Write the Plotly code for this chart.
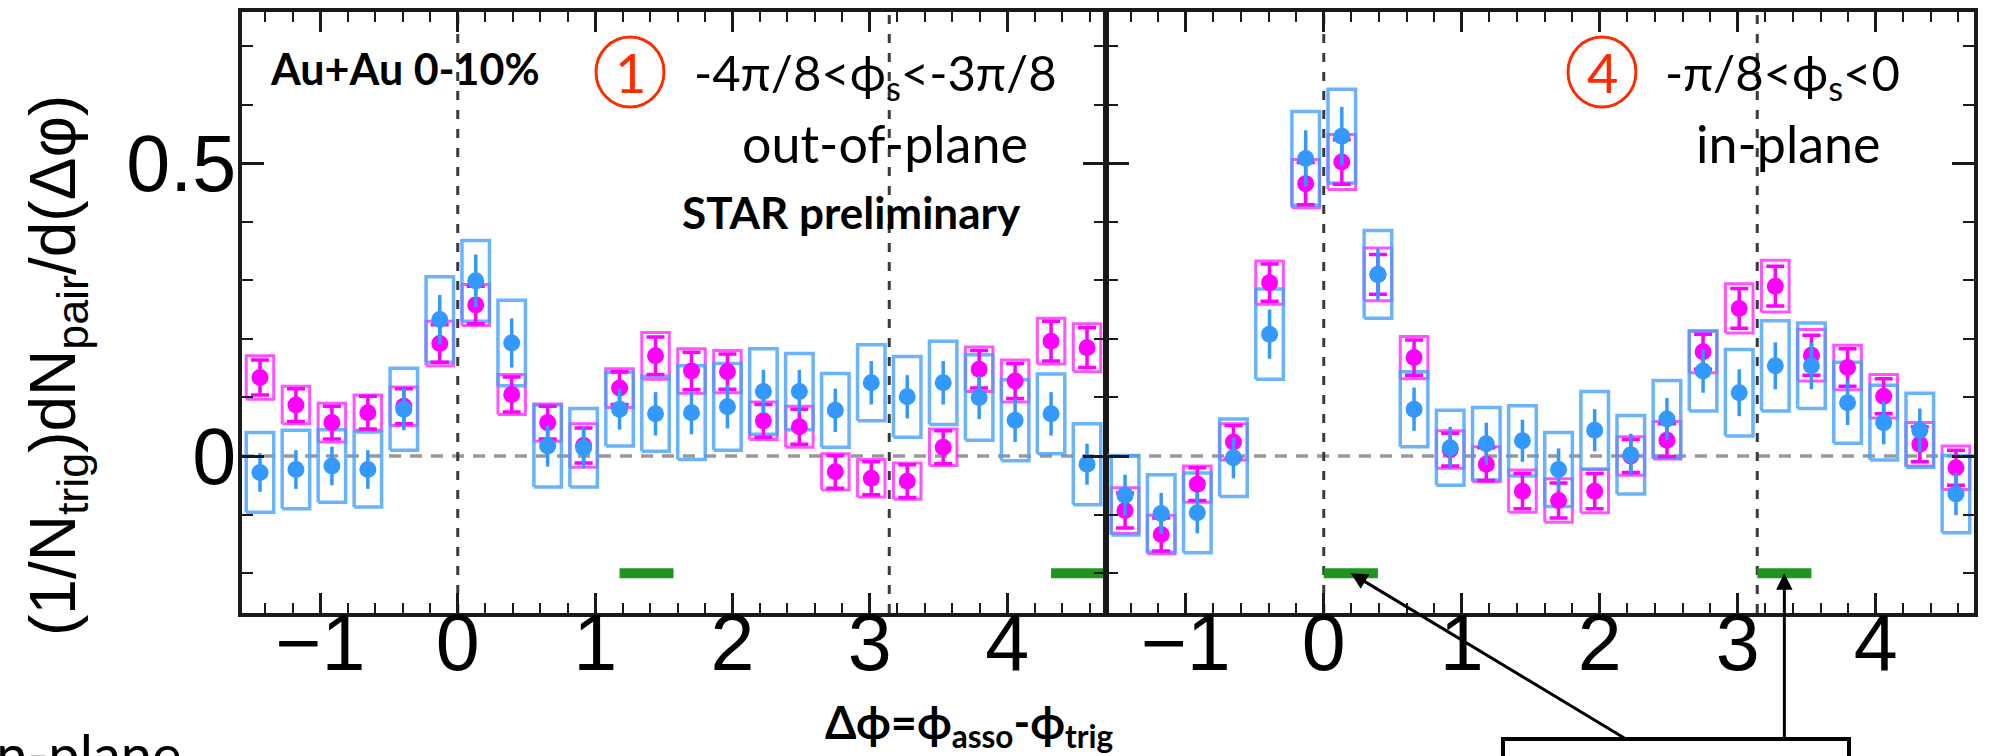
import numpy as np
import plotly.graph_objects as go

W, H = 1998, 756

# Δφ binning: 24 bins over [-π/2, 3π/2]
n_bins = 24
bin_edges = np.linspace(-np.pi / 2, 3 * np.pi / 2, n_bins + 1)
dphi = 0.5 * (bin_edges[:-1] + bin_edges[1:])

# ① out-of-plane  (-4π/8 < φs < -3π/8)
out_mag_y = [0.134, 0.087, 0.057, 0.074, 0.085, 0.192, 0.258, 0.105, 0.057, 0.018, 0.116, 0.171,
             0.145, 0.144, 0.060, 0.050, -0.027, -0.038, -0.043, 0.015, 0.148, 0.128, 0.196, 0.185]
out_mag_stat = [0.030, 0.028, 0.028, 0.028, 0.030, 0.032, 0.032, 0.030, 0.028, 0.030, 0.028, 0.032,
                0.032, 0.030, 0.028, 0.030, 0.028, 0.028, 0.028, 0.028, 0.032, 0.030, 0.034, 0.034]
out_mag_sys = [0.037, 0.032, 0.033, 0.030, 0.033, 0.038, 0.035, 0.034, 0.032, 0.037, 0.033, 0.040,
               0.038, 0.036, 0.032, 0.035, 0.031, 0.032, 0.031, 0.031, 0.038, 0.036, 0.039, 0.041]
out_blue_y = [-0.028, -0.023, -0.017, -0.023, 0.080, 0.233, 0.299, 0.193, 0.017, 0.014, 0.080, 0.072,
              0.074, 0.084, 0.110, 0.110, 0.078, 0.125, 0.101, 0.125, 0.100, 0.061, 0.072, -0.014]
out_blue_stat = [0.033, 0.033, 0.033, 0.033, 0.036, 0.042, 0.045, 0.042, 0.035, 0.035, 0.035, 0.037,
                 0.037, 0.037, 0.037, 0.037, 0.037, 0.037, 0.037, 0.037, 0.037, 0.037, 0.037, 0.035]
out_blue_sys = [0.068, 0.067, 0.062, 0.064, 0.070, 0.073, 0.069, 0.073, 0.070, 0.067, 0.063, 0.064,
                0.080, 0.074, 0.073, 0.065, 0.063, 0.065, 0.069, 0.071, 0.073, 0.069, 0.068, 0.069]

# ④ in-plane  (-π/8 < φs < 0)
in_mag_y = [-0.093, -0.134, -0.048, 0.024, 0.296, 0.465, 0.502, 0.310, 0.168, 0.011, -0.014, -0.060,
            -0.076, -0.060, 0.000, 0.027, 0.178, 0.252, 0.290, 0.172, 0.151, 0.102, 0.020, -0.020]
in_mag_stat = [0.030, 0.028, 0.028, 0.028, 0.032, 0.036, 0.038, 0.034, 0.030, 0.028, 0.028, 0.030,
               0.030, 0.030, 0.028, 0.028, 0.030, 0.034, 0.034, 0.034, 0.032, 0.030, 0.030, 0.030]
in_mag_sys = [0.039, 0.033, 0.031, 0.031, 0.037, 0.041, 0.047, 0.045, 0.036, 0.032, 0.030, 0.036,
              0.037, 0.037, 0.033, 0.032, 0.036, 0.042, 0.044, 0.044, 0.038, 0.037, 0.037, 0.037]
in_blue_y = [-0.067, -0.098, -0.097, -0.003, 0.208, 0.508, 0.546, 0.310, 0.080, 0.014, 0.021, 0.026,
             -0.023, 0.044, 0.002, 0.063, 0.145, 0.108, 0.154, 0.154, 0.091, 0.057, 0.044, -0.065]
in_blue_stat = [0.035, 0.035, 0.035, 0.035, 0.042, 0.048, 0.050, 0.044, 0.037, 0.036, 0.036, 0.036,
                0.036, 0.036, 0.036, 0.036, 0.037, 0.040, 0.040, 0.040, 0.038, 0.037, 0.037, 0.036]
in_blue_sys = [0.068, 0.066, 0.068, 0.066, 0.077, 0.080, 0.080, 0.075, 0.064, 0.064, 0.062, 0.060,
               0.063, 0.066, 0.067, 0.066, 0.068, 0.074, 0.077, 0.073, 0.069, 0.064, 0.063, 0.066]

# trigger-direction windows (in units of π) marked at the bottom of each panel
out_trig_windows = [(3 / 8, 4 / 8), (11 / 8, 12 / 8)]
in_trig_windows = [(0.0, 1 / 8), (1.0, 9 / 8)]
trig_marker_level = -0.2

x_ticks = [-1, 0, 1, 2, 3, 4]
y_ticks = [0, 0.5]
y_tick_text = ["0", "0.5"]
y_range = [-0.268, 0.758]
x_range = [-np.pi / 2, 3 * np.pi / 2]

BOX_HALF_W = 0.1

MAG = "#ff00ff"
MAG_BOX = "rgba(255,40,255,0.80)"
BLUE = "#3399ff"
BLUE_BOX = "rgba(70,160,250,0.80)"
GREEN = "#1f951f"


def px(x):
    return x / W


def py(y):
    return 1 - y / H


def box_outline(xc, yc, half_h):
    xs, ys = [], []
    for x, y, h in zip(xc, yc, half_h):
        xs += [x - BOX_HALF_W, x + BOX_HALF_W, x + BOX_HALF_W, x - BOX_HALF_W, x - BOX_HALF_W, None]
        ys += [y - h, y - h, y + h, y + h, y - h, None]
    return xs, ys


def window_segments(windows):
    xs, ys = [], []
    for a, b in windows:
        xs += [a * np.pi, b * np.pi, None]
        ys += [trig_marker_level, trig_marker_level, None]
    return xs, ys


fig = go.Figure()

panels = [
    ("x", "y", out_mag_y, out_mag_stat, out_mag_sys, out_blue_y, out_blue_stat, out_blue_sys, out_trig_windows),
    ("x2", "y2", in_mag_y, in_mag_stat, in_mag_sys, in_blue_y, in_blue_stat, in_blue_sys, in_trig_windows),
]

for xa, ya, my, mst, msy, by, bst, bsy, wins in panels:
    bx, bb = box_outline(dphi, my, msy)
    fig.add_trace(go.Scatter(x=bx, y=bb, mode="lines", line=dict(color=MAG_BOX, width=3),
                             xaxis=xa, yaxis=ya, hoverinfo="skip"))
    bx, bb = box_outline(dphi, by, bsy)
    fig.add_trace(go.Scatter(x=bx, y=bb, mode="lines", line=dict(color=BLUE_BOX, width=3.5),
                             xaxis=xa, yaxis=ya, hoverinfo="skip"))
    fig.add_trace(go.Scatter(x=dphi, y=my, mode="markers",
                             marker=dict(color=MAG, size=17),
                             error_y=dict(type="data", array=mst, color=MAG, thickness=3.5, width=9),
                             xaxis=xa, yaxis=ya))
    fig.add_trace(go.Scatter(x=dphi, y=by, mode="markers",
                             marker=dict(color=BLUE, size=17),
                             error_y=dict(type="data", array=bst, color=BLUE, thickness=3.5, width=0),
                             xaxis=xa, yaxis=ya))
    gx, gy = window_segments(wins)
    fig.add_trace(go.Scatter(x=gx, y=gy, mode="lines", line=dict(color=GREEN, width=10),
                             xaxis=xa, yaxis=ya, hoverinfo="skip"))

# reference lines
shapes = []
for xa, ya in [("x", "y"), ("x2", "y2")]:
    shapes.append(dict(type="line", xref=xa, yref=ya, x0=x_range[0], x1=x_range[1], y0=0, y1=0,
                       line=dict(color="#999999", width=3.5, dash="12px,9px"), layer="below"))
    for xv in (0, np.pi):
        shapes.append(dict(type="line", xref=xa, yref=ya, x0=xv, x1=xv, y0=y_range[0], y1=y_range[1],
                           line=dict(color="#3a3a3a", width=3, dash="9px,10px"), layer="below"))
# white backing behind the bin labels
shapes.append(dict(type="rect", xref="paper", yref="paper", x0=px(690), x1=px(1060), y0=py(247), y1=py(32),
                   fillcolor="white", line=dict(width=0), layer="below"))
shapes.append(dict(type="rect", xref="paper", yref="paper", x0=px(1560), x1=px(1910), y0=py(173), y1=py(32),
                   fillcolor="white", line=dict(width=0), layer="below"))
# circled bin numbers
for cx in (630, 1602):
    shapes.append(dict(type="circle", xref="paper", yref="paper", x0=px(cx - 34), x1=px(cx + 34),
                       y0=py(72 + 35), y1=py(72 - 35), line=dict(color="#ff2a00", width=3)))
# label box under the arrows
shapes.append(dict(type="rect", xref="paper", yref="paper", x0=px(1503), x1=px(1849), y0=py(800), y1=py(739),
                   line=dict(color="black", width=4), fillcolor="rgba(0,0,0,0)"))

SLIDE_FONT = "Lato"
ann = []


def label(text, x, y, size, color="black", family=SLIDE_FONT, **kw):
    ann.append(dict(text=text, x=px(x), y=py(y), xref="paper", yref="paper", showarrow=False,
                    xanchor=kw.pop("xanchor", "center"), yanchor=kw.pop("yanchor", "middle"),
                    font=dict(family=family, size=size, color=color), **kw))


label("<b>Au+Au 0-10%</b>", 405, 68, 43)
label("1", 630, 72, 54, color="#ff2a00")
label("-4π/8&lt;ϕ<sub>s</sub>&lt;-3π/8", 875, 76, 49)
label("out-of-plane", 885, 143, 52)
label("<b>STAR preliminary</b>", 851, 212, 44)
label("4", 1602, 72, 54, color="#ff2a00")
label("-π/8&lt;ϕ<sub>s</sub>&lt;0", 1782, 76, 49)
label("in-plane", 1788, 143, 52)
label("<b>Δϕ=ϕ<sub>asso</sub>-ϕ<sub>trig</sub></b>", 969, 725, 45)
label("(1/N<sub>trig</sub>)dN<sub>pair</sub>/d(Δφ)", 57, 366, 64, family="Liberation Sans", textangle=-90)
label("In-plane", 184, 718, 56, xanchor="right", yanchor="top")

# arrows pointing at the trigger windows of the in-plane panel
for (a, b), ax in zip(in_trig_windows, (277, 0)):
    ann.append(dict(x=0.5 * (a + b) * np.pi, y=trig_marker_level, xref="x2", yref="y2", text="",
                    showarrow=True, arrowhead=2, arrowsize=1.1, arrowwidth=3, arrowcolor="black",
                    ax=ax, ay=167))

axis_line = dict(showline=True, linewidth=4, linecolor="#1a1a1a", mirror="allticks",
                 ticks="inside", tickwidth=2.5, tickcolor="#1a1a1a", showgrid=False, zeroline=False)
tick_font = dict(family="Liberation Sans", size=79, color="black")

xcfg = dict(range=x_range, tickvals=x_ticks, ticklen=20, tickfont=tick_font, ticklabelstandoff=-42,
            minor=dict(dtick=0.2, tick0=0, ticks="inside", ticklen=10, tickwidth=2, tickcolor="#1a1a1a",
                       showgrid=False), **axis_line)
ycfg = dict(range=y_range, tickvals=y_ticks, ticktext=y_tick_text, ticklen=22, tickfont=tick_font,
            ticklabelstandoff=-14,
            minor=dict(dtick=0.1, tick0=0, ticks="inside", ticklen=11, tickwidth=2, tickcolor="#1a1a1a",
                       showgrid=False), **axis_line)

fig.update_layout(
    width=W, height=H, margin=dict(l=0, r=0, t=0, b=0),
    paper_bgcolor="white", plot_bgcolor="white", showlegend=False,
    xaxis=dict(domain=[px(242), px(1105)], anchor="y", **xcfg),
    xaxis2=dict(domain=[px(1107), px(1974)], anchor="y2", **xcfg),
    yaxis=dict(domain=[py(613), py(12)], anchor="x", **ycfg),
    yaxis2=dict(domain=[py(613), py(12)], anchor="x2", showticklabels=False, **ycfg),
    shapes=shapes, annotations=ann,
)

fig.write_html("out.html")
